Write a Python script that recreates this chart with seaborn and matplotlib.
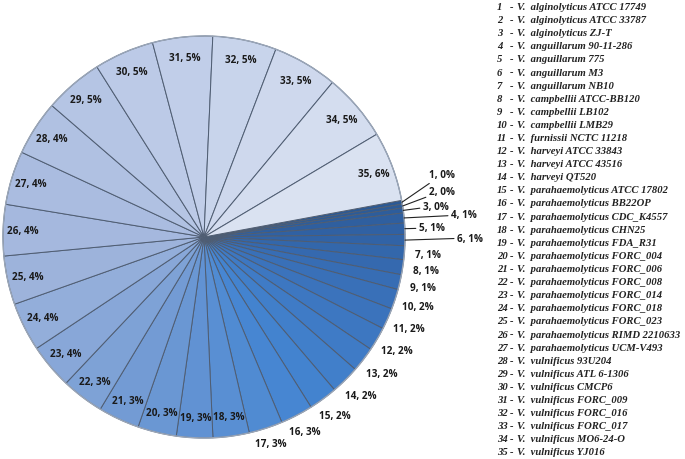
import numpy as np
import matplotlib
matplotlib.use("Agg")
import matplotlib.pyplot as plt
import seaborn as sns

# ---- data ----
ids = list(range(1, 36))
strains = [
    "alginolyticus ATCC 17749", "alginolyticus ATCC 33787", "alginolyticus ZJ-T",
    "anguillarum 90-11-286", "anguillarum 775", "anguillarum M3", "anguillarum NB10",
    "campbellii ATCC-BB120", "campbellii LB102", "campbellii LMB29",
    "furnissii NCTC 11218", "harveyi ATCC 33843", "harveyi ATCC 43516", "harveyi QT520",
    "parahaemolyticus ATCC 17802", "parahaemolyticus BB22OP", "parahaemolyticus CDC_K4557",
    "parahaemolyticus CHN25", "parahaemolyticus FDA_R31", "parahaemolyticus FORC_004",
    "parahaemolyticus FORC_006", "parahaemolyticus FORC_008", "parahaemolyticus FORC_014",
    "parahaemolyticus FORC_018", "parahaemolyticus FORC_023", "parahaemolyticus RIMD 2210633",
    "parahaemolyticus UCM-V493", "vulnificus 93U204", "vulnificus ATL 6-1306",
    "vulnificus CMCP6", "vulnificus FORC_009", "vulnificus FORC_016", "vulnificus FORC_017",
    "vulnificus MO6-24-O", "vulnificus YJ016",
]
shares = [0.3, 0.3, 0.4, 0.8, 0.9, 0.9, 1.1, 1.2, 1.2, 1.6,
          1.7, 1.9, 2.0, 2.3, 2.3, 2.6, 2.7, 2.9, 2.9, 3.1,
          3.3, 3.4, 3.6, 3.9, 3.9, 4.1, 4.3, 4.4, 4.7, 4.8,
          4.8, 5.1, 5.2, 5.4, 5.6]

# ---- style ----
sns.set_theme(style="white")
plt.rcParams["font.family"] = ["Open Sans", "DejaVu Sans"]

W, H = 685, 460
CX, CY, R = 204, 238, 201  # pixel centre / radius of the pie

fig = plt.figure(figsize=(W / 100, H / 100), dpi=100)
ax = fig.add_axes([0, 0, 1, 1])
ax.axis("off")

anchors = ["#2b5995", "#3163a6", "#3a72bb", "#4485d2", "#6d98d3",
           "#a0b5dc", "#bccae7", "#dae2f1"]
colors = sns.blend_palette(anchors, n_colors=len(shares))

wedges, _ = ax.pie(shares, colors=colors, startangle=10.5, counterclock=False,
                   radius=1.0, center=(0, 0),
                   wedgeprops=dict(edgecolor="#4f5d72", linewidth=0.7))
ax.set_xlim(-CX / R, (W - CX) / R)
ax.set_ylim(-(H - CY) / R, CY / R)
ax.set_aspect("auto")

# outer rim
ax.add_patch(plt.Circle((0, 0), 1.0, fill=False, edgecolor="#9aa6b8", linewidth=1.0))

total = sum(shares)
lab_font = dict(fontsize=7.2, fontweight="bold", color="#1a1a1a")

# leader-line label positions for the tiny slices 1-6 (data units)
leader_pos = {1: (1.12, 0.31), 2: (1.12, 0.228), 3: (1.09, 0.154),
              4: (1.23, 0.11), 5: (1.07, 0.045), 6: (1.26, -0.005)}

for i, (w, v) in enumerate(zip(wedges, shares), start=1):
    ang = np.deg2rad((w.theta1 + w.theta2) / 2)
    c, s = np.cos(ang), np.sin(ang)
    txt = f"{i}, {round(v / total * 100)}%"
    if i in leader_pos:
        tx, ty = leader_pos[i]
        ax.annotate(txt, xy=(c, s), xytext=(tx, ty), ha="left", va="center",
                    arrowprops=dict(arrowstyle="-", color="#222222", lw=0.8,
                                    shrinkA=0, shrinkB=0),
                    **lab_font)
    elif i <= 17:
        rw, rh = 0.09, 0.027
        rc = 1.025 + rw * abs(c) + rh * abs(s)
        ax.text(rc * c, rc * s, txt, ha="center", va="center", **lab_font)
    else:
        ax.text(0.9 * c, 0.9 * s, txt, ha="center", va="center", **lab_font)

# ---- legend text list on the right ----
leg_font = dict(fontsize=7.7, family=["Liberation Serif"], fontweight="bold",
                style="italic", color="#222222", va="center", ha="left")
y0, dy = 7.5, 13.1
for k, (i, name) in enumerate(zip(ids, strains)):
    y = 1 - (y0 + k * dy) / H
    fig.text(497 / W, y, f"{i}", **leg_font)
    fig.text(510 / W, y, "-", **leg_font)
    fig.text(517 / W, y, f"V.  {name}", **leg_font)

fig.savefig("out.png", dpi=100)
